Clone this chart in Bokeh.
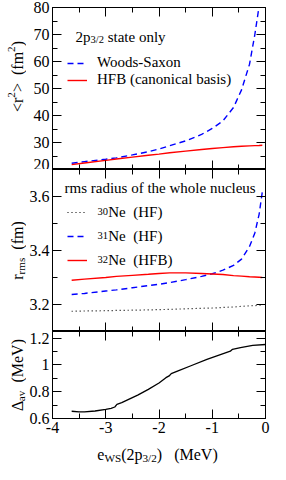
import math
from bokeh.plotting import figure
from bokeh.layouts import column, row
from bokeh.models import (Range1d, LinearAxis, FixedTicker, Label, Legend, LegendItem,
                          CustomJSTickFormatter)
from bokeh.embed import file_html
from bokeh.resources import INLINE

FONT = "Liberation Serif, serif"

# ---------------- data ----------------
e_ws = [-3.64, -3.4, -3.0, -2.8, -2.5, -2.2, -2.0, -1.8, -1.5, -1.2, -1.0, -0.8,
        -0.6, -0.45, -0.3, -0.2, -0.12, -0.06]
r2_woods_saxon = [22.3, 22.9, 23.8, 24.3, 25.4, 26.6, 27.6, 28.8, 30.6, 33.0, 35.2, 38.0,
                  43.0, 49.5, 59.0, 70.0, 80.5, 95.0]
r2_hfb = [21.8, 22.4, 23.4, 23.9, 24.6, 25.3, 25.7, 26.2, 26.8, 27.4, 27.8, 28.1,
          28.4, 28.6, 28.75, 28.85, 28.9, 29.0]
rms_ne30 = [3.175, 3.176, 3.177, 3.178, 3.179, 3.180, 3.181, 3.182, 3.184, 3.186, 3.187, 3.189,
            3.191, 3.193, 3.195, 3.196, 3.197, 3.198]
rms_ne31 = [3.237, 3.241, 3.250, 3.254, 3.262, 3.270, 3.275, 3.281, 3.292, 3.304, 3.314, 3.327,
            3.345, 3.368, 3.415, 3.465, 3.534, 3.617]
rms_ne32 = [3.290, 3.294, 3.300, 3.304, 3.308, 3.312, 3.315, 3.317, 3.317, 3.315, 3.313, 3.311,
            3.307, 3.305, 3.303, 3.302, 3.301, 3.300]

e_ws_gap = [-3.64, -3.5, -3.4, -3.2, -3.0, -2.9, -2.83, -2.79, -2.7, -2.56, -2.4, -2.2, -2.0,
            -1.87, -1.81, -1.77, -1.63, -1.4, -1.1, -0.82, -0.66, -0.62, -0.47, -0.24, 0.0]
delta_av = [0.654, 0.650, 0.649, 0.656, 0.668, 0.676, 0.686, 0.705, 0.718, 0.745, 0.775, 0.818,
            0.865, 0.905, 0.918, 0.935, 0.958, 0.994, 1.041, 1.081, 1.103, 1.117, 1.130, 1.146,
            1.153]

x_ticks = [-4, -3, -2, -1, 0]
x_minor = [-3.5, -2.5, -1.5, -0.5]
top_ticks = [20, 30, 40, 50, 60, 70, 80]
top_minor = [25, 35, 45, 55, 65, 75]
mid_ticks = [3.2, 3.4, 3.6]
mid_minor = [3.1, 3.3, 3.5, 3.7]
bot_ticks = [0.6, 0.8, 1.0, 1.2]
bot_minor = [0.7, 0.9, 1.1]

# ---------------- layout constants ----------------
LW = 26                 # width of the y-title strip
BL, FW, BR = 23, 216, 5
H_TOP, H_MID, H_BOT = 162, 162, 87
TOPB, BOTB = 7, 22
TOTAL_H = TOPB + H_TOP + H_MID + H_BOT + BOTB
XL_H = 24
TICK_FS = "16px"
LAB_FS = 16
TXT_FS = 15

W = {' ': 250, '\u00a0': 250, '(': 333, ')': 333, '<': 564, '>': 564, '/': 278, '-': 333,
     '.': 250, 'a': 444, 'b': 500, 'c': 444, 'd': 500, 'e': 444, 'f': 333, 'g': 500,
     'h': 500, 'i': 278, 'l': 278, 'm': 778, 'n': 500, 'o': 500, 'p': 500, 'r': 333,
     's': 389, 't': 278, 'u': 500, 'v': 500, 'w': 722, 'y': 500, 'M': 889, 'N': 722,
     'S': 556, 'V': 722, 'W': 944, '\u0394': 612}


def text_width(t, fs):
    return sum(W.get(c, 500) for c in t) / 1000.0 * fs


def run_width(pieces, size):
    return sum(text_width(t, size if k == "n" else size * 0.7) for t, k in pieces)


def text_run(p, x, y, pieces, size, rotated=False):
    for txt, kind in pieces:
        fs = size if kind == "n" else size * 0.7
        dy = 0.0 if kind == "n" else (-0.22 * size if kind == "sub" else 0.36 * size)
        if rotated:
            lx, ly = x - dy, y
        else:
            lx, ly = x, y + dy
        p.add_layout(Label(x=lx, y=ly, x_units="screen", y_units="screen", text=txt,
                           angle=(math.pi / 2 if rotated else 0), text_font=FONT,
                           text_font_size=f"{fs:.1f}px", text_color="black",
                           text_baseline="alphabetic", text_align="left"))
        w = text_width(txt, fs)
        if rotated:
            y += w
        else:
            x += w


fmt = CustomJSTickFormatter(code="return String(Math.round(tick*1000)/1000);")
nofmt = CustomJSTickFormatter(code="return '';")


def blank_fig(w, h):
    p = figure(width=w, height=h, x_range=Range1d(0, 1), y_range=Range1d(0, 1),
               output_backend="svg", toolbar_location=None,
               x_axis_location=None, y_axis_location=None)
    p.min_border = 0
    p.xgrid.visible = False
    p.ygrid.visible = False
    p.outline_line_color = None
    p.background_fill_color = "white"
    p.border_fill_color = "white"
    return p


def make_fig(h, yr, yt, ym, bottom_labels=False, top_border=0, bottom_border=0):
    p = figure(width=BL + FW + BR, height=h + top_border + bottom_border,
               x_range=Range1d(-4, 0), y_range=Range1d(*yr),
               output_backend="svg", toolbar_location=None,
               x_axis_location=None, y_axis_location=None)
    p.min_border = 0
    p.min_border_left = BL
    p.min_border_right = BR
    p.min_border_top = top_border
    p.min_border_bottom = bottom_border
    p.xgrid.visible = False
    p.ygrid.visible = False
    p.outline_line_color = "black"
    p.outline_line_width = 1
    p.background_fill_color = "white"
    p.border_fill_color = "white"
    specs = [("left", True, yt, ym), ("right", False, yt, ym),
             ("above", False, x_ticks, x_minor), ("below", bottom_labels, x_ticks, x_minor)]
    for side, labels, ticks, minor in specs:
        ax = LinearAxis(ticker=FixedTicker(ticks=ticks, minor_ticks=minor),
                        formatter=(fmt if labels else nofmt))
        ax.axis_line_color = "black"
        ax.major_tick_line_color = "black"
        ax.minor_tick_line_color = "black"
        ax.major_tick_in = 9
        ax.major_tick_out = 0
        ax.minor_tick_in = 5
        ax.minor_tick_out = 0
        if labels:
            ax.major_label_text_font = FONT
            ax.major_label_text_font_size = TICK_FS
            ax.major_label_text_color = "black"
            ax.major_label_standoff = 3
        else:
            ax.major_label_text_font_size = "0px"
            ax.major_label_standoff = 0
        p.add_layout(ax, side)
    return p


# ---------------- top panel ----------------
p1 = make_fig(H_TOP, (20, 80), top_ticks, top_minor, top_border=TOPB)
ws = p1.line(e_ws, r2_woods_saxon, line_color="blue", line_width=1.4, line_dash="6 4")
hfb = p1.line(e_ws, r2_hfb, line_color="red", line_width=1.4)
leg1 = Legend(items=[LegendItem(label="Woods-Saxon", renderers=[ws]),
                     LegendItem(label="HFB (canonical basis)", renderers=[hfb])],
              location=(15, H_TOP - 49 - 32), orientation="vertical",
              glyph_width=20, glyph_height=16, label_height=16, label_standoff=10,
              spacing=0, padding=0, margin=0, border_line_color=None,
              background_fill_alpha=0, label_text_font=FONT,
              label_text_font_size=f"{TXT_FS}px", label_text_color="black")
p1.add_layout(leg1)
text_run(p1, 23, H_TOP - 29, [("2p", "n"), ("3/2", "sub"), ("\u00a0state only", "n")], TXT_FS)

# ---------------- middle panel ----------------
p2 = make_fig(H_MID, (3.1, 3.7), mid_ticks, mid_minor)
n30 = p2.line(e_ws, rms_ne30, line_color="black", line_width=1.2, line_dash="1 3")
n31 = p2.line(e_ws, rms_ne31, line_color="blue", line_width=1.4, line_dash="6 4")
n32 = p2.line(e_ws, rms_ne32, line_color="red", line_width=1.4)
NB = "\u00a0\u00a0\u00a0"
row_h = 24
leg_top = 43 - row_h / 2
leg2 = Legend(items=[LegendItem(label=NB + "Ne\u00a0\u00a0(HF)", renderers=[n30]),
                     LegendItem(label=NB + "Ne\u00a0\u00a0(HF)", renderers=[n31]),
                     LegendItem(label=NB + "Ne\u00a0\u00a0(HFB)", renderers=[n32])],
              location=(15, H_MID - leg_top - 3 * row_h), orientation="vertical",
              glyph_width=20, glyph_height=row_h, label_height=row_h, label_standoff=10,
              spacing=0, padding=0, margin=0, border_line_color=None,
              background_fill_alpha=0, label_text_font=FONT,
              label_text_font_size=f"{TXT_FS}px", label_text_color="black")
p2.add_layout(leg2)
for i, iso in enumerate(["30", "31", "32"]):
    yc = H_MID - leg_top - row_h * (i + 0.5)
    p2.add_layout(Label(x=15 + 20 + 10, y=yc + 1.5, x_units="screen", y_units="screen",
                        text=iso, text_font=FONT, text_font_size="10.5px", text_color="black",
                        text_baseline="alphabetic", text_align="left"))
text_run(p2, 12, H_MID - 18.5, [("rms radius of the whole nucleus", "n")], TXT_FS)

# ---------------- bottom panel ----------------
p3 = make_fig(H_BOT, (0.6, 1.25), bot_ticks, bot_minor, bottom_labels=True, bottom_border=BOTB)
p3.line(e_ws_gap, delta_av, line_color="black", line_width=1.3)

# ---------------- y-axis titles (strip on the left) ----------------
pl = blank_fig(LW, TOTAL_H)
BASE_X = 17
lab1 = [("<r", "n"), ("2", "sup"), (">", "n"), ("\u00a0\u00a0(fm", "n"), ("2", "sup"), (")", "n")]
c1 = TOTAL_H - (TOPB + H_TOP / 2) + 12
text_run(pl, BASE_X, c1 - run_width(lab1, LAB_FS) / 2, lab1, LAB_FS, rotated=True)
lab2 = [("r", "n"), ("rms", "sub"), ("\u00a0\u00a0(fm)", "n")]
c2 = TOTAL_H - (TOPB + H_TOP + H_MID / 2)
text_run(pl, BASE_X, c2 - run_width(lab2, LAB_FS) / 2, lab2, LAB_FS, rotated=True)
lab3 = [("\u0394", "n"), ("av", "sub"), ("\u00a0\u00a0(MeV)", "n")]
c3 = TOTAL_H - (TOPB + H_TOP + H_MID + H_BOT / 2)
text_run(pl, BASE_X, c3 - run_width(lab3, LAB_FS) / 2, lab3, LAB_FS, rotated=True)

# ---------------- x-axis title (strip below) ----------------
px = blank_fig(LW + BL + FW + BR, XL_H)
labx = [("e", "n"), ("WS", "sub"), ("(2p", "n"), ("3/2", "sub"), (")", "n"),
        ("\u00a0\u00a0\u00a0(MeV)", "n")]
text_run(px, LW + BL + FW / 2 - run_width(labx, LAB_FS) / 2, 10, labx, LAB_FS)

layout = column(row(pl, column(p1, p2, p3, spacing=0), spacing=0), px, spacing=0)
open("out.html", "w").write(file_html(layout, INLINE))
